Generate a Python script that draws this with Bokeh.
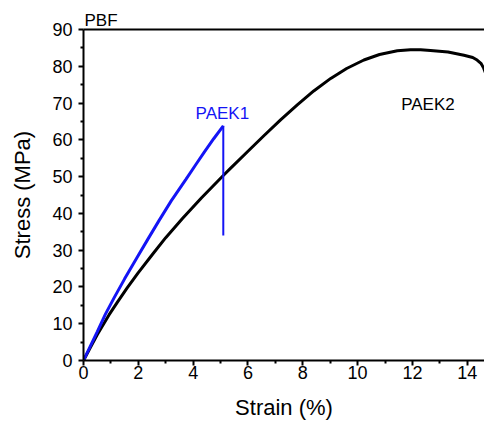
from bokeh.plotting import figure
from bokeh.models import Range1d, LinearAxis, FixedTicker, Label
from bokeh.embed import file_html
from bokeh.resources import INLINE

# Tensile curves: strain (%) vs stress (MPa)
paek1_strain = [0, 0.25, 0.5, 0.8, 1.12, 1.5, 1.97, 2.35, 2.76, 3.2, 3.73, 4.1, 4.4, 4.75, 5.1]
paek1_stress = [0, 3.9, 7.8, 12.6, 17.1, 22.2, 28.2, 33.0, 38.1, 43.4, 49.2, 53.3, 56.6, 60.3, 63.8]
paek1_break_strain = [5.1, 5.1]
paek1_break_stress = [63.8, 34.0]

paek2_strain = [0, 0.25, 0.5, 0.93, 1.25, 1.6, 2.0, 2.52, 3.0, 3.61, 4.3, 5.1, 5.37, 6.0,
                6.58, 7.2, 7.8, 8.4, 9.02, 9.6, 10.23, 10.8, 11.45, 11.93, 12.3, 12.66,
                13.3, 13.88, 14.2, 14.36, 14.5, 14.6, 14.7]
paek2_stress = [0, 3.5, 7.0, 12.4, 16.0, 19.8, 23.9, 28.9, 33.4, 38.6, 44.2, 50.3, 52.3, 56.9,
                61.1, 65.5, 69.5, 73.3, 76.7, 79.4, 81.7, 83.2, 84.2, 84.5, 84.5, 84.3,
                83.9, 83.0, 82.4, 81.7, 80.8, 79.5, 77.5]

x_ticks = [0, 2, 4, 6, 8, 10, 12, 14]
x_minor = [1, 3, 5, 7, 9, 11, 13]
y_ticks = [0, 10, 20, 30, 40, 50, 60, 70, 80, 90]
y_minor = [5, 15, 25, 35, 45, 55, 65, 75, 85]

FONT = "Liberation Sans"
BLUE = "#1414f5"

p = figure(width=484, height=422, output_backend="svg", toolbar_location=None,
           x_range=Range1d(0, 14.63), y_range=Range1d(0, 90),
           min_border_left=83, min_border_bottom=62, min_border_top=29, min_border_right=0,
           background_fill_color="white", border_fill_color="white")
p.outline_line_color = None
p.xgrid.visible = False
p.ygrid.visible = False

# material label sitting above the frame
p.title.text = "PBF"
p.title.align = "left"
p.title.text_font = FONT
p.title.text_font_size = "17px"
p.title.text_font_style = "normal"
p.title.text_color = "black"
p.title.offset = 1
p.title.standoff = 0

for ax, ticks, minor in ((p.xaxis[0], x_ticks, x_minor), (p.yaxis[0], y_ticks, y_minor)):
    ax.ticker = FixedTicker(ticks=ticks, minor_ticks=minor)
    ax.axis_line_width = 2
    ax.axis_line_color = "black"
    ax.major_tick_line_width = 2
    ax.minor_tick_line_width = 2
    ax.major_tick_in = 0
    ax.major_tick_out = 5
    ax.minor_tick_in = 0
    ax.minor_tick_out = 3
    ax.major_label_text_font = FONT
    ax.major_label_text_font_size = "18px"
    ax.major_label_text_color = "black"
    ax.axis_label_text_font = FONT
    ax.axis_label_text_font_size = "22px"
    ax.axis_label_text_font_style = "normal"
    ax.axis_label_text_color = "black"

p.xaxis.axis_label = "Strain (%)"
p.yaxis.axis_label = "Stress (MPa)"
p.xaxis.major_label_standoff = 0
p.xaxis.axis_label_standoff = 13
p.yaxis.major_label_standoff = 6
p.yaxis.axis_label_standoff = 14

# closing line along the top of the frame
top = LinearAxis(axis_line_width=2, axis_line_color="black",
                 major_tick_line_color=None, minor_tick_line_color=None,
                 major_label_text_font_size="0px")
top.ticker = FixedTicker(ticks=[])
p.add_layout(top, "above")

p.line(paek2_strain, paek2_stress, line_color="black", line_width=3)
p.line(paek1_strain, paek1_stress, line_color=BLUE, line_width=3)
p.line(paek1_break_strain, paek1_break_stress, line_color=BLUE, line_width=2)

p.add_layout(Label(x=4.09, y=67.2, text="PAEK1", text_font=FONT, text_font_size="17px",
                   text_color=BLUE, text_align="left", text_baseline="alphabetic"))
p.add_layout(Label(x=11.59, y=69.7, text="PAEK2", text_font=FONT, text_font_size="17px",
                   text_color="black", text_align="left", text_baseline="alphabetic"))

open("out.html", "w").write(file_html(p, INLINE))
